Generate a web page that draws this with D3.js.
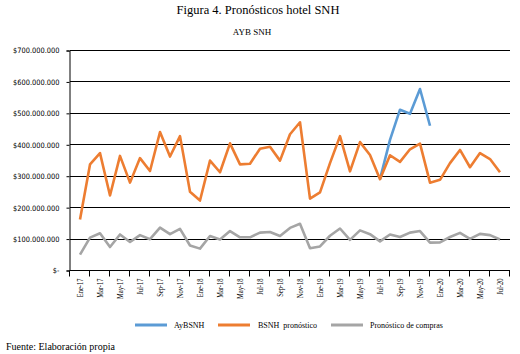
<!DOCTYPE html>
<html><head><meta charset="utf-8">
<script src="https://cdn.jsdelivr.net/npm/d3@7"></script>
<style>body{margin:0;background:#fff}svg{display:block}</style>
</head><body>
<svg id="c" width="520" height="354"></svg>
<script>
const categories = ["Ene-17","Feb-17","Mar-17","Abr-17","May-17","Jun-17","Jul-17","Ago-17","Sep-17","Oct-17","Nov-17","Dic-17",
  "Ene-18","Feb-18","Mar-18","Abr-18","May-18","Jun-18","Jul-18","Ago-18","Sep-18","Oct-18","Nov-18","Dic-18",
  "Ene-19","Feb-19","Mar-19","Abr-19","May-19","Jun-19","Jul-19","Ago-19","Sep-19","Oct-19","Nov-19","Dic-19",
  "Ene-20","Feb-20","Mar-20","Abr-20","May-20","Jun-20","Jul-20"];
const xTickLabels = ["Ene-17","Mar-17","May-17","Jul-17","Sep-17","Nov-17","Ene-18","Mar-18","May-18","Jul-18","Sep-18","Nov-18",
  "Ene-19","Mar-19","May-19","Jul-19","Sep-19","Nov-19","Ene-20","Mar-20","May-20","Jul-20"];
const yTicks = [0,100e6,200e6,300e6,400e6,500e6,600e6,700e6];
const yTickLabels = ["$-","$100.000.000","$200.000.000","$300.000.000","$400.000.000","$500.000.000","$600.000.000","$700.000.000"];
// AyBSNH (real) – only visible where it differs from the forecast
const ayb = [null,null,null,null,null,null,null,null,null,null,null,null,
  null,null,null,null,null,null,null,null,null,null,null,null,
  null,null,null,null,null,null,289e6,414e6,510e6,497e6,576e6,459e6,
  null,null,null,null,null,null,null];
const bsnhPronostico = [161e6,336e6,372e6,237e6,363e6,278e6,356e6,315e6,439e6,361e6,426e6,249e6,
  221e6,348e6,311e6,403e6,336e6,338e6,386e6,392e6,348e6,432e6,470e6,227e6,
  247e6,340e6,426e6,314e6,407e6,366e6,289e6,365e6,344e6,384e6,402e6,278e6,
  287e6,340e6,382e6,327e6,372e6,353e6,311e6];
const pronosticoCompras = [49e6,103e6,117e6,73e6,113e6,89e6,111e6,98e6,135e6,114e6,131e6,78e6,
  68e6,108e6,97e6,124e6,104e6,104e6,119e6,121e6,108e6,134e6,147e6,69e6,
  75e6,109e6,132e6,96e6,126e6,114e6,91e6,113e6,105e6,119e6,124e6,87e6,
  88e6,105e6,118e6,99e6,115e6,111e6,97e6];
const seriesNames = ["AyBSNH","BSNH  pronóstico","Pronóstico de compras"];
const colors = ["#5B9BD5","#ED7D31","#A5A5A5"];

const svg = d3.select("#c");
const serif = "'Liberation Serif','Times New Roman',serif";
const sans = "'DejaVu Sans Condensed','DejaVu Sans',sans-serif";

const x = d3.scaleLinear().domain([-1, categories.length]).range([70, 510]);
const y = d3.scaleLinear().domain([0, 700e6]).range([270, 50]);

// titles
svg.append("text").attr("x",258).attr("y",14).attr("text-anchor","middle")
  .attr("font-family",serif).attr("font-size",12.5).text("Figura 4. Pronósticos hotel SNH");
svg.append("text").attr("x",252).attr("y",35).attr("text-anchor","middle")
  .attr("font-family",serif).attr("font-size",9).text("AYB SNH");

// gridlines
svg.append("g").selectAll("line").data(yTicks.slice(1)).join("line")
  .attr("x1",x(-1)).attr("x2",x(categories.length))
  .attr("y1",d=>Math.round(y(d))+0.5).attr("y2",d=>Math.round(y(d))+0.5)
  .attr("stroke","#000").attr("stroke-width",1);

// y axis
const yAxis = d3.axisLeft(y).tickValues(yTicks).tickSize(3).tickPadding(7)
  .tickFormat((d,i)=>yTickLabels[i]);
const gy = svg.append("g").attr("transform",`translate(${x(-1)-0.5},0.5)`).call(yAxis);
gy.select(".domain").attr("stroke","#000");
gy.selectAll(".tick line").attr("stroke","#000");
gy.selectAll("text").attr("font-family",sans).attr("font-size",7.4).attr("fill","#000");

// x axis
const xTickPositions = d3.range(-1, categories.length+1, 2);
const gx = svg.append("g").attr("transform","translate(0,270.5)");
gx.append("line").attr("x1",x(-1)).attr("x2",x(categories.length)).attr("stroke","#000");
gx.selectAll("line.t").data(xTickPositions).join("line").attr("class","t")
  .attr("x1",d=>Math.round(x(d))-0.5).attr("x2",d=>Math.round(x(d))-0.5)
  .attr("y1",0).attr("y2",6).attr("stroke","#000");
gx.selectAll("text").data(xTickLabels).join("text")
  .attr("transform",(d)=>`translate(${x(categories.indexOf(d))},8) rotate(-90) scale(0.72,1)`)
  .attr("text-anchor","end").attr("dy","0.33em")
  .attr("font-family",serif).attr("font-size",9).text(d=>d);

// lines
const line = d3.line().defined(d=>d!=null).x((d,i)=>x(i)).y(d=>y(d));
[ayb,bsnhPronostico,pronosticoCompras].forEach((s,k)=>{
  svg.append("path").datum(s).attr("d",line).attr("fill","none")
    .attr("stroke",colors[k]).attr("stroke-width",2.6).attr("stroke-linejoin","round");
});

// legend
const legendItems = [{x1:135,x2:167,tx:174},{x1:218,x2:250,tx:258},{x1:331,x2:363,tx:370}];
legendItems.forEach((p,k)=>{
  svg.append("line").attr("x1",p.x1).attr("x2",p.x2).attr("y1",325).attr("y2",325)
    .attr("stroke",colors[k]).attr("stroke-width",3);
  svg.append("text").attr("x",p.tx).attr("y",328).attr("font-family",serif).attr("font-size",8)
    .attr("xml:space","preserve").style("white-space","pre").text(seriesNames[k]);
});

// source
svg.append("text").attr("x",6).attr("y",350).attr("font-family",serif).attr("font-size",10)
  .text("Fuente: Elaboración propia");
</script>
</body></html>
